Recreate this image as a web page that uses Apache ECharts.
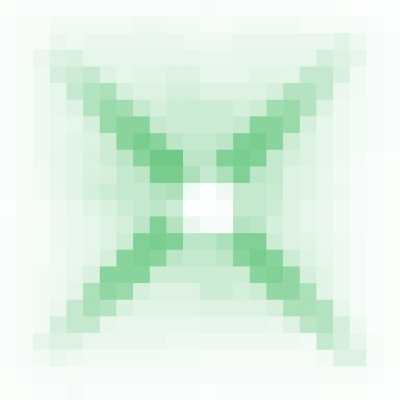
<!DOCTYPE html>
<html>
<head>
<meta charset="utf-8">
<script src="https://cdn.jsdelivr.net/npm/echarts@6/dist/echarts.min.js"></script>
<style>html,body{margin:0;padding:0;background:#fff}#c{width:400px;height:400px}</style>
</head>
<body>
<div id="c"></div>
<script>
const xCategories = ['0','1','2','3','4','5','6','7','8','9','10','11','12','13','14','15','16','17','18','19','20','21','22','23'];
const yCategories = ['0','1','2','3','4','5','6','7','8','9','10','11','12','13','14','15','16','17','18','19','20','21','22','23'];
const rows = [
  [0.2,0.3,0.3,0.3,0.3,0.3,0.3,0.3,0.3,0.3,0.3,0.3, 0.4,0.3,0.3,0.3,0.3,0.3,0.3,0.3,0.2,0.2,0.1,0.1],
  [0.3,0.5,0.5,0.8,0.8,0.8,0.8,0.8,1,1,0.8,0.8, 0.6,0.6,0.8,0.8,0.8,0.8,0.6,0.6,0.6,0.4,0.3,0.2],
  [0.3,0.5,0.6,1.2,1.0,1.2,1.2,1.2,1.2,1.2,1.2,1.0, 1,1,1.2,1.2,1.2,1.2,1.2,1.2,1.8,1,0.4,0.3],
  [0.3,0.6,1.2,2,2.2,1.5,1.5,1.5,1.5,1.5,1.5,1.5, 1.2,1.2,1.5,1.5,1.5,1.5,1.5,2.5,2,1.5,0.5,0.3],
  [0.3,0.6,1.0,2.5,3,3.5,2,1.5,1.8,1.8,2,2, 1.5,1.5,1.5,1.8,1.8,1.6,3.5,3.5,2.2,0.8,0.5,0.3],
  [0.3,0.6,1.0,1.5,3.5,4.5,5,2.5,2,2,2.5,2.5, 2,2,2,2,2.5,4.5,4.5,3.5,1.2,0.8,0.4,0.3],
  [0.3,0.6,1.0,1.5,2,4.5,6,5.5,3.5,2.5,3,3, 3,3,2.5,3,5.5,6,4.5,2,1.0,0.7,0.4,0.3],
  [0.3,0.6,1.0,1.3,1.5,2.5,6,7,7,3.5,3,3, 3,3,3.5,7,7,6,2.5,1.5,1,0.7,0.4,0.3],
  [0.3,0.6,1.0,1.3,1.8,2,3,7,8,7,4,3.5, 3.5,4,7.5,8,7,3,2,1.5,1,0.7,0.4,0.3],
  [0.3,0.6,1.0,1.5,1.8,2.2,3,4,7,8.5,8.5,4, 4,7.5,8,7.5,3.5,2.5,2,1.5,1,0.6,0.3,0.2],
  [0.3,0.5,0.8,1.5,1.8,2.2,2.5,3.5,4,8,8,5, 3.5,5,7.5,4,3.5,2,1.8,1.3,0.8,0.5,0.3,0.2],
  [0.3,0.5,0.8,1.2,1.8,2.5,3,3.5,3.5,4.5,5,0.8, 0.1,1,3.5,3.5,3.2,2,1.8,1.3,1,0.5,0.3,0.2],
  [0.2,0.4,0.6,1,1.3,1.8,2.2,3,3.5,4,3,0.1, 0.1,0.3,3.5,3.5,3,2,1.5,1.2,0.8,0.5,0.3,0.2],
  [0.3,0.5,0.6,1,1.2,1.5,2,2.5,4,7.5,4.5,1.2, 0.5,0.5,4.5,4,2.5,2,1.5,1.2,0.8,0.5,0.3,0.2],
  [0.3,0.5,0.6,1,1.2,1.5,2,3,7.5,8,7.5,4, 4,5,7.5,7.5,3,2,1.8,1.3,1,0.6,0.3,0.2],
  [0.3,0.5,0.6,0.9,1.3,1.6,2.5,7,7.5,7,4,3.5, 3.5,4,7,8,7,3,2,1.5,1,0.6,0.3,0.2],
  [0.3,0.5,0.8,1,1.5,2.2,7,7,7,3,3,3, 3,3,3,7,7.5,6.5,2.5,1.8,1,0.6,0.3,0.2],
  [0.3,0.5,0.8,1,1.6,5,6.5,6,2.5,2,2,2, 3,3,2.5,3,6.5,6.5,5,1.8,1,0.6,0.3,0.2],
  [0.3,0.5,0.8,1.2,3.5,5,4.5,2.2,1.8,1.8,1.8,1.8, 2,2,2,2,2.5,5,5,4.5,1.5,0.6,0.3,0.2],
  [0.3,0.5,0.8,2.5,3.5,3.5,1.4,1.3,1.3,1.3,1.3,1.2, 1.5,1.5,1.5,1.5,1.3,2,4,4.5,2.5,1,0.3,0.2],
  [0.3,0.5,1.5,2,2,1.2,1.2,1.2,1.2,1.2,1.0,1.0, 1,1,1,1,1,1,0.8,3.5,2.5,1.5,0.4,0.2],
  [0.3,0.5,0.8,1.3,1.0,0.8,0.8,0.8,0.8,0.8,0.7,0.7, 0.6,0.6,0.6,0.6,0.6,0.6,0.6,0.8,2,2,0.4,0.2],
  [0.2,0.3,0.4,0.5,0.6,0.6,0.6,0.6,0.6,0.6,0.5,0.5, 0.4,0.4,0.4,0.4,0.4,0.4,0.4,0.4,0.4,0.4,0.3,0.2],
  [0.2,0.2,0.3,0.3,0.4,0.3,0.3,0.3,0.3,0.3,0.3,0.3, 0.2,0.3,0.3,0.3,0.3,0.3,0.3,0.2,0.2,0.2,0.2,0.1]
];
const data = [];
rows.forEach((row, y) => row.forEach((v, x) => data.push([x, y, v])));
const chart = echarts.init(document.getElementById('c'));
chart.setOption({
  animation: false,
  backgroundColor: '#ffffff',
  grid: { left: 0, right: 0, top: 0, bottom: 0 },
  xAxis: { type: 'category', data: xCategories, show: false },
  yAxis: { type: 'category', data: yCategories, show: false, inverse: true },
  visualMap: { show: false, min: 0, max: 10, dimension: 2, inRange: { color: ['#ffffff', '#57c072'] } },
  series: [{ type: 'heatmap', data: data, itemStyle: { borderWidth: 0 } }]
});
</script>
</body>
</html>
